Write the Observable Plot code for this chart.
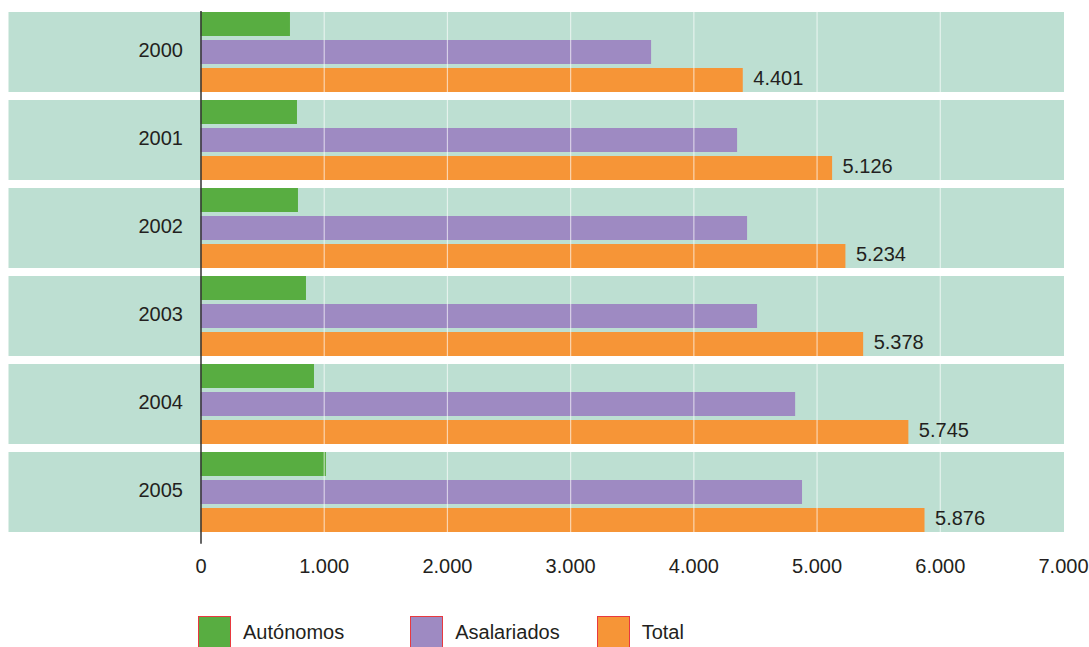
<!DOCTYPE html>
<html>
<head>
<meta charset="utf-8">
<script src="https://cdn.jsdelivr.net/npm/d3@7"></script>
<script src="https://cdn.jsdelivr.net/npm/@observablehq/plot@0.6"></script>
<style>
  body { margin: 0; background: #fff; font-family: "Liberation Sans", Arial, sans-serif; }
  #legend { display: flex; margin-top: 11px; padding-left: 198px; font-size: 20px; color: #231f20; }
  .item { display: flex; align-items: center; }
  .sw { width: 31px; height: 31px; border: 1px solid #e8393f; box-sizing: content-box; }
  .lab { margin-left: 12px; }
</style>
</head>
<body>
<div id="chart"></div>
<div id="legend"></div>
<script>
const years = ["2000", "2001", "2002", "2003", "2004", "2005"];
const series = ["Autónomos", "Asalariados", "Total"];
const autonomos = [726, 783, 791, 856, 921, 1018];
const asalariados = [3657, 4355, 4436, 4517, 4826, 4882];
const total = [4401, 5126, 5234, 5378, 5745, 5876];
const xTicks = [0, 1000, 2000, 3000, 4000, 5000, 6000, 7000];
const colors = ["#58ad41", "#9e8ac2", "#f69537"];

const locale = d3.formatLocale({decimal: ",", thousands: ".", grouping: [3], currency: ["", "€"]});
const fmt = locale.format(",d");

const rows = years.map((y, i) => ({year: y, a: autonomos[i], s: asalariados[i], t: total[i]}));

const barInsets = [[0, 56], [28, 28], [56, 0]];
const barKeys = ["a", "s", "t"];

const chart = Plot.plot({
  width: 1089,
  height: 605,
  marginTop: 11,
  marginBottom: 72.3,
  marginLeft: 200.5,
  marginRight: 26,
  style: {fontFamily: "'Liberation Sans', Arial, sans-serif", fontSize: "20px", color: "#231f20", background: "#fff"},
  x: {domain: [0, 7000], label: null},
  y: {domain: years, paddingInner: 0.094, paddingOuter: 0, label: null},
  color: {domain: series, range: colors},
  marks: [
    Plot.barX(rows, {x1: 0, x2: 7000, y: "year", fill: "#bddfd2", insetLeft: -192, insetRight: -1}),
    ...barKeys.map((k, j) => Plot.barX(rows, {
      x: k, y: "year", fill: () => series[j],
      insetTop: barInsets[j][0], insetBottom: barInsets[j][1]
    })),
    Plot.ruleX(xTicks.slice(1, -1), {stroke: "#ffffff", strokeOpacity: 0.6, strokeWidth: 1.2}),
    Plot.ruleX([0], {stroke: "#333", strokeWidth: 1.5, insetBottom: -11}),
    Plot.axisY({tickSize: 0, tickPadding: 18, fontSize: 20, dy: -1.5, label: null, fill: "#231f20"}),
    Plot.axisX({ticks: xTicks, tickFormat: fmt, tickSize: 0, tickPadding: 26, fontSize: 20, label: null, fill: "#231f20"}),
    Plot.text(rows, {x: "t", y: "year", text: d => fmt(d.t), textAnchor: "start", dx: 10, dy: 26.5, fontSize: 20, fill: "#231f20"})
  ]
});
document.getElementById("chart").appendChild(chart);

const legend = document.getElementById("legend");
const gapsBefore = [0, 66, 37];
series.forEach((s, i) => {
  const item = document.createElement("div");
  item.className = "item";
  item.style.marginLeft = gapsBefore[i] + "px";
  const sw = document.createElement("div");
  sw.className = "sw";
  sw.style.background = colors[i];
  const lab = document.createElement("span");
  lab.className = "lab";
  lab.textContent = s;
  item.appendChild(sw);
  item.appendChild(lab);
  legend.appendChild(item);
});
</script>
</body>
</html>
